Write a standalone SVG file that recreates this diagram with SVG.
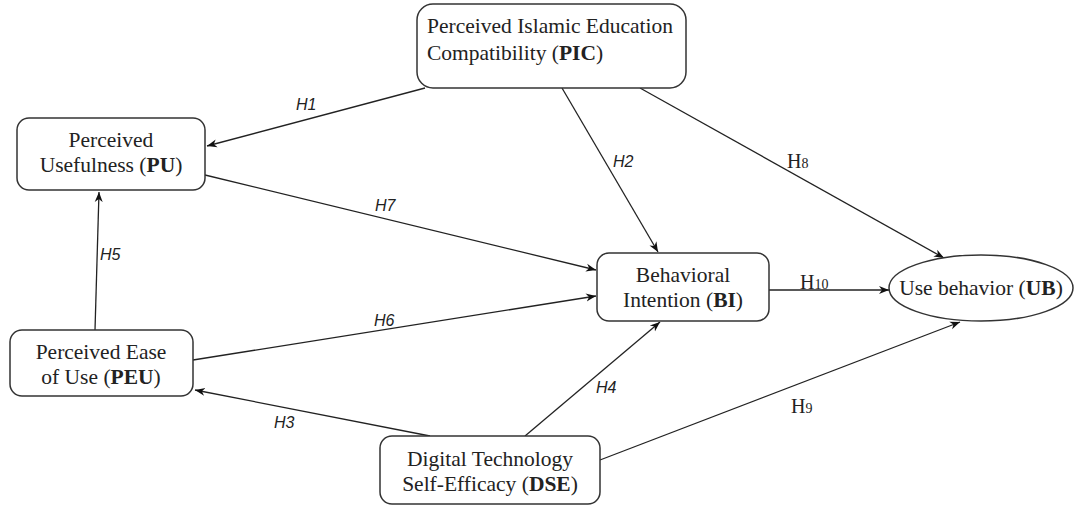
<svg xmlns="http://www.w3.org/2000/svg" width="1075" height="506" viewBox="0 0 1075 506">
<style>
.box{fill:#fff;stroke:#333;stroke-width:1.5}
.t{font-family:"Liberation Serif",serif;font-size:21.5px;fill:#222;text-anchor:middle}
.l{text-anchor:start}
.b{font-weight:bold}
.c{stroke:#222;stroke-width:1.3;fill:none;marker-end:url(#ah)}
.h{font-family:"Liberation Sans",sans-serif;font-size:16px;font-style:italic;fill:#222}
.hs{font-family:"Liberation Serif",serif;font-size:20px;fill:#222}
</style>
<defs>
<marker id="ah" viewBox="0 0 10 10" refX="10" refY="5" markerWidth="10" markerHeight="10" markerUnits="userSpaceOnUse" orient="auto">
<path d="M0,1 L10,5 L0,9 L3,5 Z" fill="#111"/>
</marker>
</defs>
<g id="connectors">
<line class="c" x1="425" y1="88" x2="207" y2="146"/>
<line class="c" x1="562" y1="88" x2="658" y2="252"/>
<line class="c" x1="640" y1="88" x2="944" y2="258"/>
<line class="c" x1="205" y1="175" x2="596" y2="270"/>
<line class="c" x1="193" y1="360" x2="596" y2="296"/>
<line class="c" x1="95" y1="330" x2="99" y2="192"/>
<line class="c" x1="430" y1="436" x2="195" y2="390"/>
<line class="c" x1="525" y1="436" x2="660" y2="322"/>
<line class="c" x1="600" y1="460" x2="960" y2="322"/>
<line class="c" x1="769" y1="290" x2="889" y2="290"/>
<text class="h" x="296" y="110">H1</text>
<text class="h" x="613" y="167">H2</text>
<text class="hs" x="787" y="168">H<tspan font-size="14">8</tspan></text>
<text class="h" x="375" y="211">H7</text>
<text class="h" x="100" y="260">H5</text>
<text class="h" x="374" y="326">H6</text>
<text class="hs" x="800" y="289">H<tspan font-size="14">10</tspan></text>
<text class="h" x="274" y="428">H3</text>
<text class="h" x="596" y="393">H4</text>
<text class="hs" x="791" y="413">H<tspan font-size="14">9</tspan></text>
</g>
<g id="PIC">
<rect class="box" x="417" y="4" width="269" height="84" rx="16"/>
<text class="t l" x="427" y="33">Perceived Islamic Education</text>
<text class="t l" x="427" y="60">Compatibility (<tspan class="b">PIC</tspan>)</text>
</g>
<g id="PU">
<rect class="box" x="17" y="118" width="188" height="72" rx="12"/>
<text class="t" x="111" y="147">Perceived</text>
<text class="t" x="111" y="172">Usefulness (<tspan class="b">PU</tspan>)</text>
</g>
<g id="BI">
<rect class="box" x="597" y="253" width="172" height="68" rx="12"/>
<text class="t" x="683" y="282">Behavioral</text>
<text class="t" x="683" y="307">Intention (<tspan class="b">BI</tspan>)</text>
</g>
<g id="UB">
<ellipse class="box" cx="981" cy="288" rx="92" ry="33"/>
<text class="t" x="981" y="295">Use behavior (<tspan class="b">UB</tspan>)</text>
</g>
<g id="PEU">
<rect class="box" x="10" y="330" width="183" height="66" rx="12"/>
<text class="t" x="101" y="359">Perceived Ease</text>
<text class="t" x="101" y="384">of Use (<tspan class="b">PEU</tspan>)</text>
</g>
<g id="DSE">
<rect class="box" x="380" y="436" width="220" height="68" rx="12"/>
<text class="t" x="490" y="466">Digital Technology</text>
<text class="t" x="490" y="491">Self-Efficacy (<tspan class="b">DSE</tspan>)</text>
</g>
</svg>
